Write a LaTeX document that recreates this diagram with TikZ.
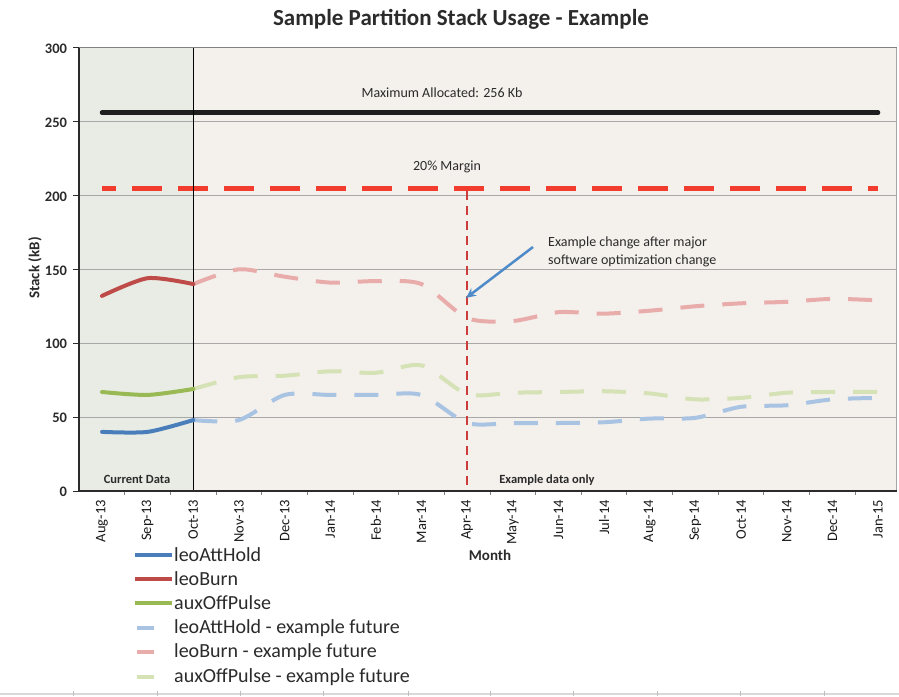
\documentclass[tikz,border=0pt]{standalone}
\usepackage{fontspec}
\setmainfont{Carlito}
\usetikzlibrary{arrows.meta, positioning}
\definecolor{zoneNow}{HTML}{E8ECE5}
\definecolor{zoneLater}{HTML}{F4F0EC}
\definecolor{gridGray}{HTML}{A8A8A8}
\definecolor{txtDark}{HTML}{2B2B2B}
\definecolor{attBlue}{HTML}{4A7EBB}
\definecolor{burnRed}{HTML}{BE4B48}
\definecolor{pulseGreen}{HTML}{98B954}
\definecolor{attPale}{HTML}{A9C3E3}
\definecolor{burnPale}{HTML}{E8ADAB}
\definecolor{pulsePale}{HTML}{D5E2B5}
\definecolor{marginRed}{HTML}{F23D2E}
\definecolor{noteBlue}{HTML}{4F8BC9}
\tikzset{
    gridLine/.style={gridGray, line width=0.8pt},
    axisLine/.style={txtDark, line width=1.8pt},
    nowLine/.style={line width=4pt, line join=round, line cap=round},
    futureLine/.style={line width=4pt, dash pattern=on 24pt off 18pt},
    yTick/.style={anchor=east, inner sep=0pt, font=\fontsize{14.5}{14.5}\selectfont\bfseries, text=txtDark},
    monthTick/.style={rotate=90, anchor=east, inner sep=0pt, font=\fontsize{14.5}{14.5}\selectfont, text=black!90},
    chartNote/.style={inner sep=0pt, font=\fontsize{14}{18}\selectfont, text=txtDark},
    zoneNote/.style={inner sep=0pt, font=\fontsize{12.5}{13}\selectfont\bfseries, text=txtDark},
    legendText/.style={anchor=west, inner sep=0pt, font=\fontsize{20}{20}\selectfont, text=txtDark},
}
\newcommand{\drawSeries}[2][nowLine]{
    \draw[#1] plot[smooth, tension=0.45] coordinates {#2};
}
\newcommand{\legendRow}[5]{
    \draw[line width=4.5pt, #2] (#3, #1) -- (#4, #1);
    \node[legendText] (leg#5) at (174, #1) {#5};
}

\begin{document}
\begin{tikzpicture}[x=1pt, y=-1pt]

    \useasboundingbox[fill=white] (0, 0) rectangle (899, 696);

    % title
    \node[font=\fontsize{23}{23}\selectfont\bfseries, text=txtDark] (title) at (461, 19) {Sample Partition Stack Usage - Example};

    % chart frame, one unit = one month / one kB
    \begin{scope}[shift={(102, 491)}, x=45.65pt, y=1.478pt]
        \fill[zoneNow] (-0.5, 0) rectangle (2, 300);
        \fill[zoneLater] (2, 0) rectangle (17.41, 300);

        \foreach \v in {50, 100, ..., 250}
            \draw[gridLine] (-0.5, \v) -- (17.41, \v);
        \draw[gray, line width=1.6pt] (-0.5, 300) -- (17.41, 300);
        \draw[gray!70, line width=1pt] (17.41, 0) -- (17.41, 300);

        \foreach \v in {0, 50, ..., 300} {
            \draw[txtDark, line width=1pt] (-0.5, \v) -- ++(-6pt, 0);
            \node[yTick] (ylab\v) at ([xshift=-12pt, yshift=-1pt]-0.5, \v) {\v};
        }

        \foreach \m [count=\i from 0] in {Aug-13, Sep-13, Oct-13, Nov-13, Dec-13, Jan-14, Feb-14, Mar-14, Apr-14, May-14, Jun-14, Jul-14, Aug-14, Sep-14, Oct-14, Nov-14, Dec-14, Jan-15} {
            \node[monthTick] (month\i) at ([yshift=-9pt]\i, 0) {\m};
        }
        \foreach \i in {0, ..., 16}
            \draw[gray, line width=1pt] (\i+0.5, 0) -- ++(0, -4pt);

        % limits
        \draw[black!88, line width=4.5pt, line cap=round] (0, 256) -- (17, 256);
        \draw[marginRed, line width=5pt, dash pattern=on 30pt off 16pt, dash phase=16pt] (0, 205) -- (17, 205);

        % split between measured and example data
        \draw[black, line width=1.5pt] (2, 0) -- (2, 300);
        \draw[burnRed!80!red, line width=2.5pt, dash pattern=on 9pt off 6pt] (8, 203) -- (8, 0);

        % example future
        \drawSeries[futureLine, attPale]{(2,48) (3,48) (4,65) (5,65) (6,65) (7,65) (8,46) (9,46) (10,46) (11,46.5) (12,49) (13,49.5) (14,57) (15,58) (16,62) (17,63)}
        \drawSeries[futureLine, burnPale]{(2,140) (3,150) (4,145) (5,141) (6,142) (7,140) (8,117) (9,115) (10,121) (11,120) (12,122) (13,125) (14,127) (15,128) (16,130) (17,129)}
        \drawSeries[futureLine, pulsePale]{(2,69) (3,77) (4,78) (5,81) (6,80) (7,85) (8,65.5) (9,66.5) (10,67) (11,67.5) (12,66) (13,62) (14,63) (15,66.5) (16,67) (17,67)}

        % current data
        \drawSeries[nowLine, attBlue]{(0,40) (1,40) (2,48)}
        \drawSeries[nowLine, burnRed]{(0,132) (1,144) (2,140)}
        \drawSeries[nowLine, pulseGreen]{(0,67) (1,65) (2,69)}

        % axes
        \draw[axisLine] (-0.5, 300) -- (-0.5, 0) -- (17.41, 0);
    \end{scope}

    % chart texts
    \node[chartNote] (maxLabel) at (442, 93) {Maximum Allocated: 256 Kb};
    \node[chartNote] (marginLabel) at (447, 167) {20\% Margin};
    \node[chartNote, anchor=west, align=left] (note) at (548, 252) {Example change after major\\software optimization change};
    \coordinate (noteTail) at (533, 247);
    \coordinate (noteTip) at (466, 298);
    \draw[noteBlue, line width=2.5pt, -{Stealth[length=10pt, width=9pt]}] (noteTail) -- (noteTip);

    \node[zoneNote] (nowLabel) at (137, 479) {Current Data};
    \node[zoneNote] (laterLabel) at (547, 480) {Example data only};

    \node[font=\fontsize{15}{15}\selectfont\bfseries, text=txtDark] (xTitle) at (490, 555) {Month};
    \node[rotate=90, font=\fontsize{15}{15}\selectfont\bfseries, text=txtDark] (yTitle) at (35, 268) {Stack (kB)};

    % legend
    \legendRow{555}{attBlue}{135}{172}{leoAttHold}
    \legendRow{579}{burnRed}{135}{172}{leoBurn}
    \legendRow{603}{pulseGreen}{135}{172}{auxOffPulse}
    \legendRow{628}{attPale}{137}{154}{leoAttHold - example future}
    \legendRow{652}{burnPale}{137}{154}{leoBurn - example future}
    \legendRow{677}{pulsePale}{137}{154}{auxOffPulse - example future}

    % page edge
    \draw[black!15, line width=2.5pt] (0, 694) -- (899, 694);
    \foreach \x in {73, 157, 240, 323, 408, 490, 573, 657, 740, 824}
        \draw[black!25, line width=1pt] (\x, 691) -- (\x, 696);

\end{tikzpicture}
\end{document}
